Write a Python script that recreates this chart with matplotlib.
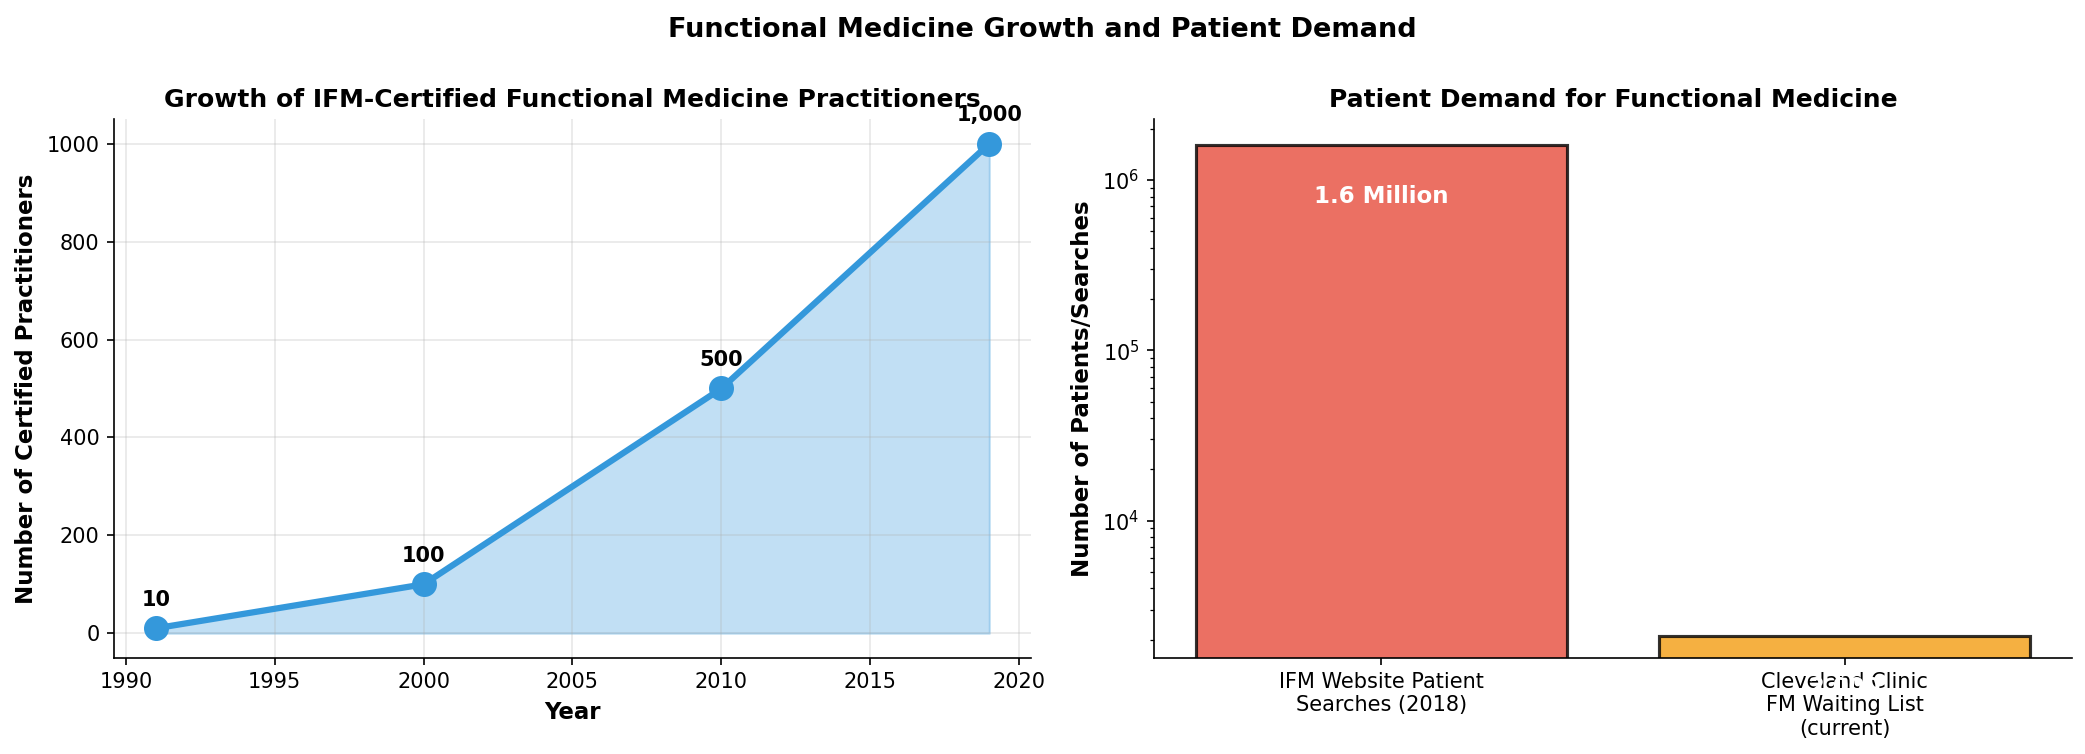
import matplotlib
matplotlib.use("Agg")
import matplotlib.pyplot as plt

# ---- data ----
years = [1991, 2000, 2010, 2019]
practitioners = [10, 100, 500, 1000]
point_labels = ["10", "100", "500", "1,000"]

demand_categories = ["IFM Website Patient\nSearches (2018)",
                     "Cleveland Clinic\nFM Waiting List\n(current)"]
demand_values = [1_600_000, 2_100]
demand_labels = ["1.6 Million", "2,000"]
demand_colors = ["#e74c3c", "#f39c12"]

W, H, DPI = 2085, 754, 150
fig = plt.figure(figsize=(W / DPI, H / DPI), dpi=DPI)

ax1 = fig.add_axes([0.05468, 0.12772, 0.4398, 0.71406])
ax2 = fig.add_axes([0.55348, 0.12772, 0.44014, 0.71406])

# ---- left chart ----
line_color = "#3498db"
ax1.fill_between(years, practitioners, 0, color=line_color, alpha=0.3)
ax1.plot(years, practitioners, color=line_color, linewidth=3, marker="o",
         markersize=11)
for x, y, lab in zip(years, practitioners, point_labels):
    ax1.annotate(lab, (x, y), xytext=(0, 9), textcoords="offset points",
                 ha="center", va="bottom", fontsize=10, fontweight="bold")
ax1.set_title("Growth of IFM-Certified Functional Medicine Practitioners",
              fontsize=12, fontweight="bold")
ax1.set_xlabel("Year", fontsize=11, fontweight="bold")
ax1.set_ylabel("Number of Certified Practitioners", fontsize=11,
               fontweight="bold")
ax1.grid(True, alpha=0.3)
ax1.spines["top"].set_visible(False)
ax1.spines["right"].set_visible(False)
ax1.tick_params(labelsize=10)

# ---- right chart ----
xpos = list(range(len(demand_categories)))
bars = ax2.bar(xpos, demand_values, color=demand_colors, edgecolor="black",
               linewidth=1.5, alpha=0.8, width=0.8)
ax2.set_yscale("log")
ax2.set_ylim(1569, 2.272e6)
ax2.set_xticks(xpos)
ax2.set_xticklabels(demand_categories, fontsize=10)
for b, v, lab in zip(bars, demand_values, demand_labels):
    ax2.text(b.get_x() + b.get_width() / 2, v / 2, lab, ha="center",
             va="center", fontsize=11, fontweight="bold", color="white",
             clip_on=False)
ax2.set_title("Patient Demand for Functional Medicine", fontsize=12,
              fontweight="bold")
ax2.set_ylabel("Number of Patients/Searches", fontsize=11, fontweight="bold")
ax2.spines["top"].set_visible(False)
ax2.spines["right"].set_visible(False)
ax2.tick_params(labelsize=10)

fig.suptitle("Functional Medicine Growth and Patient Demand", fontsize=13,
             fontweight="bold", y=0.978)

fig.savefig("out.png", dpi=DPI)
